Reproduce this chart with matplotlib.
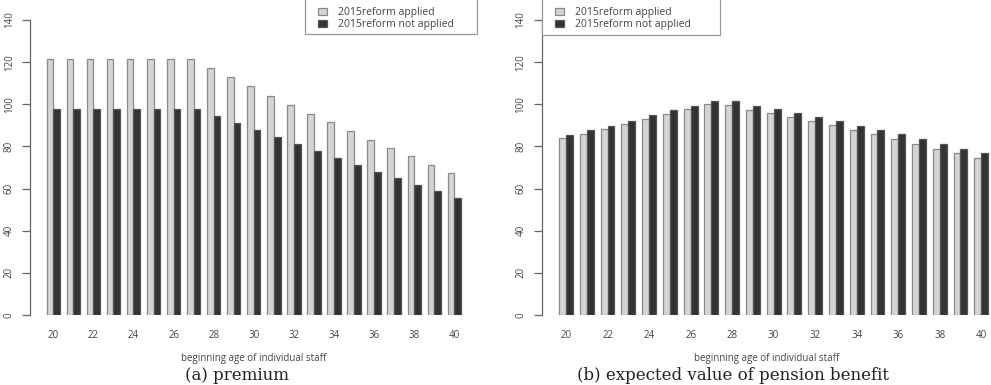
import matplotlib
matplotlib.use("Agg")
import matplotlib.pyplot as plt
import numpy as np
from matplotlib.patches import Patch, Rectangle

ages = list(range(20, 41))
tick_ages = list(range(20, 41, 2))
series_names = ["2015reform applied", "2015reform not applied"]

premium_applied = [121.4, 121.4, 121.4, 121.4, 121.4, 121.4, 121.4, 121.4,
                   117.1, 112.8, 108.5, 104.1, 99.8, 95.5, 91.5, 87.3,
                   83.2, 79.3, 75.3, 71.2, 67.4]
premium_not_applied = [97.9, 97.9, 97.9, 97.9, 97.9, 97.9, 97.9, 97.9,
                       94.4, 91.1, 87.8, 84.4, 81.1, 77.8, 74.4, 71.4,
                       68.1, 64.9, 61.8, 58.7, 55.6]

benefit_applied = [84.0, 86.0, 88.3, 90.8, 93.0, 95.2, 97.6, 100.2, 99.5, 97.3,
                   95.7, 93.8, 92.1, 90.0, 87.8, 85.7, 83.6, 81.3, 79.0, 77.0, 74.6]
benefit_not_applied = [85.6, 87.8, 89.8, 92.2, 94.9, 97.1, 99.2, 101.7, 101.4, 99.4,
                       97.8, 95.7, 94.0, 91.9, 89.8, 87.8, 85.7, 83.5, 81.3, 78.9, 77.0]

yticks = [0, 20, 40, 60, 80, 100, 120, 140]
xlabel = "beginning age of individual staff"
captions = ["(a) premium", "(b) expected value of pension benefit"]

W, H = 991, 385
LIGHT = "#d4d4d4"
DARK = "#333333"
EDGE = "#8a8a8a"
TXT = "#444444"
SANS = ["Open Sans", "DejaVu Sans"]

fig = plt.figure(figsize=(W / 100, H / 100), dpi=100)

def make_axes(x0px, x1px, xlim):
    ax = fig.add_axes([x0px / W, 70 / H, (x1px - x0px) / W, 295 / H])
    ax.set_xlim(*xlim)
    ax.set_ylim(0, 140)
    return ax

def draw_panel(ax, a, b):
    n = len(ages)
    idx = np.arange(n)
    left_light = 1 + 3 * idx
    ax.bar(left_light, a, width=1, align="edge", color=LIGHT, edgecolor=EDGE, linewidth=0.9)
    ax.bar(left_light + 1, b, width=1, align="edge", color=DARK, edgecolor="#555555", linewidth=0.9)
    centers = {age: 2 + 3 * i for i, age in enumerate(ages)}
    ax.set_xticks([centers[t] for t in tick_ages])
    ax.set_xticklabels([str(t) for t in tick_ages], fontsize=7, color=TXT, family=SANS)
    ax.tick_params(axis="x", length=0, pad=11)
    ax.set_yticks(yticks)
    ax.set_yticklabels([str(t) for t in yticks], rotation=90, va="center",
                       fontsize=7, color=TXT, family=SANS)
    ax.tick_params(axis="y", length=6, width=0.9, color="#666666", pad=5)
    for s in ["top", "right", "bottom"]:
        ax.spines[s].set_visible(False)
    ax.spines["left"].set_bounds(0, 140)
    ax.spines["left"].set_color("#666666")
    ax.spines["left"].set_linewidth(0.9)
    ax.set_xlabel(xlabel, fontsize=7, color=TXT, family=SANS)
    ax.xaxis.set_label_coords(0.5, -(358 - 315) / 295)
    ax.xaxis.label.set_va("center")

ax1 = make_axes(30, 477.6, (-1.48, 65.48))
draw_panel(ax1, premium_applied, premium_not_applied)
ax2 = make_axes(541.7, 991, (-1.52, 63.41))
draw_panel(ax2, benefit_applied, benefit_not_applied)

handles = [Patch(facecolor=LIGHT, edgecolor=EDGE, linewidth=0.9),
           Patch(facecolor=DARK, edgecolor="#555555", linewidth=0.9)]

def add_legend(frame_x0, frame_x1, frame_bottom, content_x, content_bottom):
    rect = Rectangle((frame_x0 / W, 1 - frame_bottom / H), (frame_x1 - frame_x0) / W,
                     (frame_bottom + 10) / H, transform=fig.transFigure,
                     facecolor="white", edgecolor="#999999", linewidth=0.9, zorder=5)
    fig.add_artist(rect)
    leg = fig.legend(handles, series_names, loc="lower left",
                     bbox_to_anchor=(content_x / W, 1 - content_bottom / H),
                     bbox_transform=fig.transFigure,
                     prop={"family": SANS, "size": 7.5}, labelcolor=TXT,
                     frameon=False, handlelength=0.9, handleheight=0.65,
                     handletextpad=1.05, labelspacing=0.12, borderpad=0,
                     borderaxespad=0)
    leg.set_zorder(6)
    return leg

add_legend(305, 477, 33.5, 318, 30)
add_legend(541.7, 720, 35, 554.5, 30)

fig.text(237 / W, 5 / H, captions[0], ha="center", va="baseline",
         fontsize=12, family="DejaVu Serif", color="#222222")
fig.text(733 / W, 5 / H, captions[1], ha="center", va="baseline",
         fontsize=12, family="DejaVu Serif", color="#222222")

fig.savefig("out.png", dpi=100)
